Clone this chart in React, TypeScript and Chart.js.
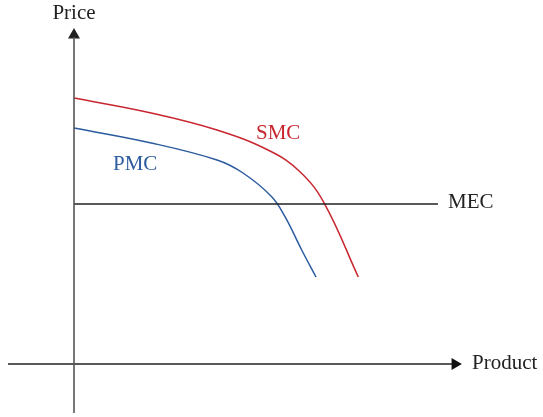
import React, { useEffect, useRef } from "react";
import { Chart, registerables } from "chart.js";

Chart.register(...registerables);

// Quantity (product) and price values, in chart units (origin at the axes' crossing)
const smcQuantity = [0, 7.6, 14.3, 19.6, 22.6, 25.03, 28.43];
const smcPrice = [26.6, 25.13, 23.4, 21.3, 19.23, 16.07, 8.7];

const pmcQuantity = [0, 7.6, 14.3, 16.9, 19.77, 21.1, 22.77, 24.2];
const pmcPrice = [23.6, 22.13, 20.4, 19.1, 16.73, 14.73, 11.4, 8.7];

const mecQuantity = [0, 36.4];
const mecPrice = [16.0, 16.0];

const seriesLabels = ["SMC", "PMC", "MEC"];
const axisLabels = ["Price", "Product"];

const RED = "#c8262f";
const BLUE = "#2c5b9f";
const DARK = "#222222";

const zip = (xs: number[], ys: number[]) => xs.map((x, i) => ({ x, y: ys[i] }));

const labelPlugin = {
  id: "labels",
  afterDraw(chart: any) {
    const { ctx, scales } = chart;
    const px = (u: number) => scales.x.getPixelForValue(u);
    const py = (v: number) => scales.y.getPixelForValue(v);
    ctx.save();
    ctx.font = '21px "Liberation Serif", "DejaVu Serif", serif';
    ctx.textBaseline = "alphabetic";
    const items: [string, number, number, string, CanvasTextAlign][] = [
      [axisLabels[0], 0, 34.5, DARK, "center"],
      [axisLabels[1], 39.8, -0.45, DARK, "left"],
      [seriesLabels[2], 37.4, 15.6, DARK, "left"],
      [seriesLabels[0], 18.2, 22.5, RED, "left"],
      [seriesLabels[1], 3.9, 19.4, BLUE, "left"],
    ];
    for (const [t, u, v, c, a] of items) {
      ctx.fillStyle = c;
      ctx.textAlign = a;
      ctx.fillText(t, px(u), py(v));
    }
    ctx.restore();
  },
};

export default function App() {
  const ref = useRef<HTMLCanvasElement | null>(null);

  useEffect(() => {
    if (!ref.current) return;
    const chart = new Chart(ref.current, {
      type: "line",
      data: {
        datasets: [
          {
            label: "Price axis",
            data: [
              { x: 0, y: -4.9 },
              { x: 0, y: 32.7 },
            ],
            borderColor: "#555555",
            borderWidth: 1.6,
            pointRadius: 0,
          },
          {
            label: "Product axis",
            data: [
              { x: -6.6, y: 0 },
              { x: 37.8, y: 0 },
            ],
            borderColor: DARK,
            borderWidth: 1.6,
            pointRadius: 0,
          },
          {
            label: "Price arrow",
            data: [{ x: 0, y: 32.9 }],
            pointStyle: "triangle",
            pointRadius: 6.9,
            pointRotation: 0,
            pointBackgroundColor: "#222222",
            pointBorderColor: "#222222",
            pointBorderWidth: 0,
            showLine: false,
          },
          {
            label: "Product arrow",
            data: [{ x: 38.1, y: 0 }],
            pointStyle: "triangle",
            pointRadius: 6.9,
            pointRotation: 90,
            pointBackgroundColor: "#111111",
            pointBorderColor: "#111111",
            pointBorderWidth: 0,
            showLine: false,
          },
          {
            label: seriesLabels[2],
            data: zip(mecQuantity, mecPrice),
            borderColor: DARK,
            borderWidth: 1.6,
            pointRadius: 0,
          },
          {
            label: seriesLabels[0],
            data: zip(smcQuantity, smcPrice),
            borderColor: RED,
            borderWidth: 1.5,
            pointRadius: 0,
            tension: 0.4,
          },
          {
            label: seriesLabels[1],
            data: zip(pmcQuantity, pmcPrice),
            borderColor: BLUE,
            borderWidth: 1.5,
            pointRadius: 0,
            tension: 0.4,
          },
        ],
      },
      options: {
        responsive: false,
        animation: false,
        layout: { padding: 0, autoPadding: false },
        plugins: {
          legend: { display: false },
          tooltip: { enabled: false },
        },
        scales: {
          x: { type: "linear", min: -7.4, max: 46.9, display: false },
          y: { type: "linear", min: -5.3, max: 36.4, display: false },
        },
      },
      plugins: [labelPlugin],
    });
    return () => chart.destroy();
  }, []);

  return (
    <div
      style={{
        position: "absolute",
        left: 0,
        top: 0,
        width: 543,
        height: 417,
        background: "#ffffff",
      }}
    >
      <canvas ref={ref} width={543} height={417} />
    </div>
  );
}
